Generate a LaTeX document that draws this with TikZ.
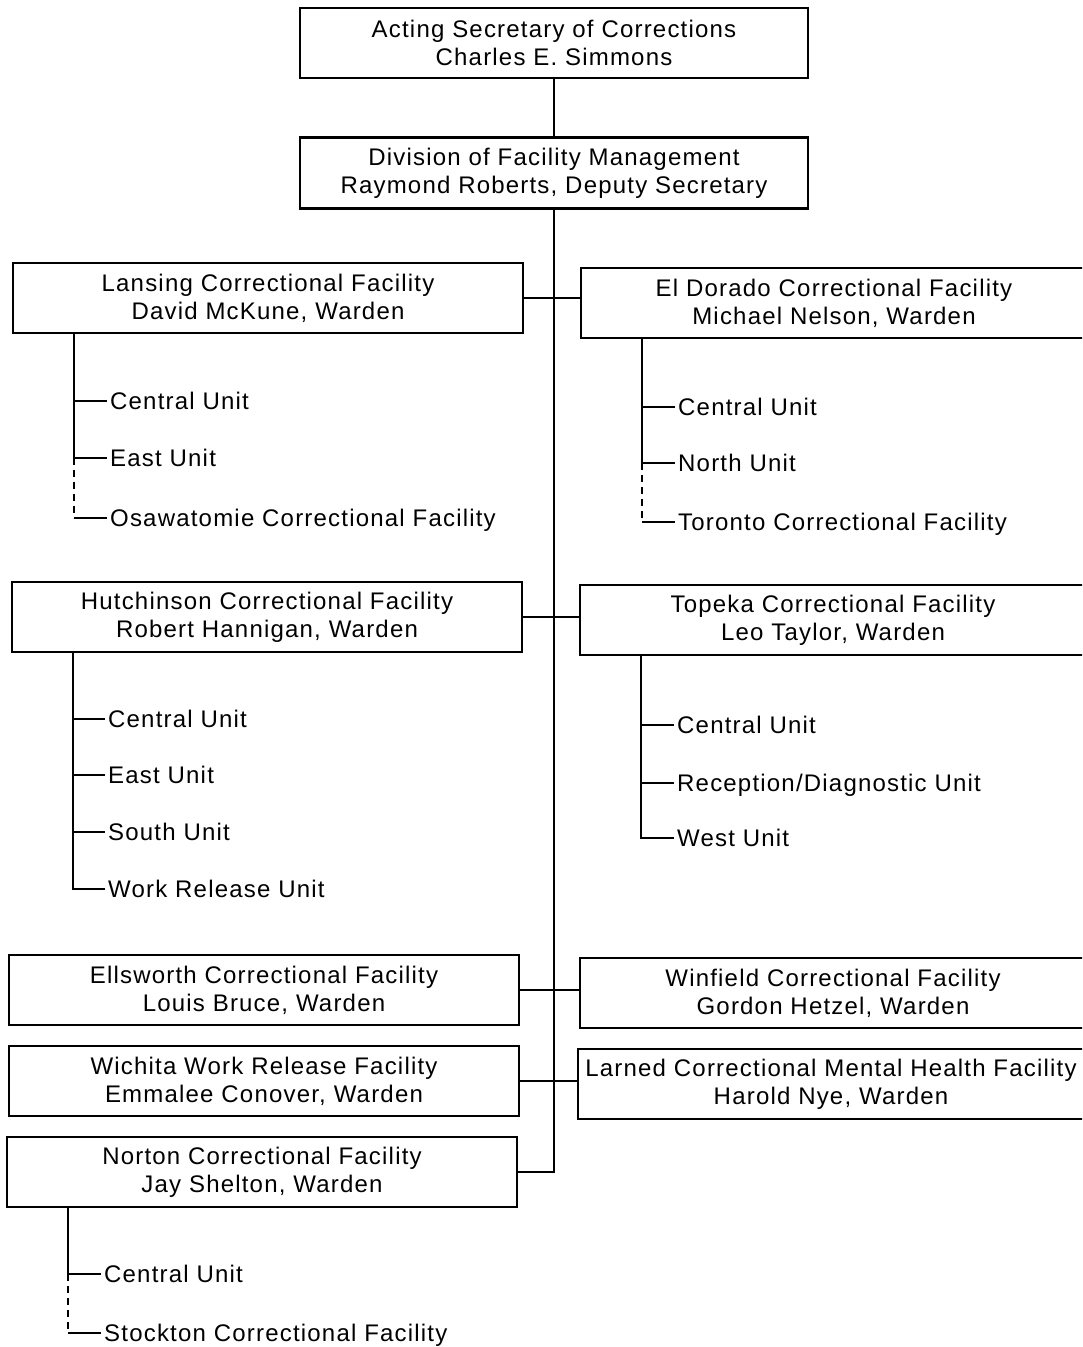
\documentclass[tikz,border=0pt]{standalone}
\usepackage{fontspec}
\setmainfont{Liberation Sans}[LetterSpace=5]

\begin{document}
\begin{tikzpicture}[x=1pt,y=-1pt,line width=2.4pt,
  box/.style={draw,inner sep=0,minimum height=70pt,align=center,font=\fontsize{24}{28}\selectfont},
  lbox/.style={box,minimum width=510pt},
  rbox/.style={box,minimum width=506pt},
  item/.style={anchor=west,inner sep=2pt,text height=16pt,text depth=0pt,font=\fontsize{24}{28}\selectfont},
  link/.style={dash pattern=on 7pt off 5pt}]

\clip (0,0) rectangle (1082,1347);

% secretary and division
\node[box,minimum width=508pt] (sec) at (554,43) {Acting Secretary of Corrections\\Charles E. Simmons};
\node[box,minimum width=508pt,minimum height=71pt] (dfm) at (554,173) {Division of Facility Management\\Raymond Roberts, Deputy Secretary};
\draw (sec) -- (dfm);

% facilities
\node[lbox] (lan) at (268,298) {Lansing Correctional Facility\\David McKune, Warden};
\node[rbox] (eld) at (834,303) {El Dorado Correctional Facility\\Michael Nelson, Warden};
\node[lbox] (hut) at (267,617) {Hutchinson Correctional Facility\\Robert Hannigan, Warden};
\node[rbox] (top) at (833,620) {Topeka Correctional Facility\\Leo Taylor, Warden};
\node[lbox] (ell) at (264,990) {Ellsworth Correctional Facility\\Louis Bruce, Warden};
\node[rbox] (win) at (833,993) {Winfield Correctional Facility\\Gordon Hetzel, Warden};
\node[lbox] (wic) at (264,1081) {Wichita Work Release Facility\\Emmalee Conover, Warden};
\node[rbox] (lar) at (831,1084) {Larned Correctional Mental Health Facility\\Harold Nye, Warden};
\node[lbox] (nor) at (262,1172) {Norton Correctional Facility\\Jay Shelton, Warden};

\draw (nor.east) -- (nor.east -| dfm.south) -- (dfm.south);
\draw (lan.east) -- (eld.west |- lan.east);
\draw (hut.east) -- (top.west |- hut.east);
\draw (ell.east) -- (win.west |- ell.east);
\draw (wic.east) -- (lar.west |- wic.east);

% units
\node[item] (lanC) at (107,401) {Central Unit};
\node[item] (lanE) at (107,458) {East Unit};
\node[item] (lanO) at (107,518) {Osawatomie Correctional Facility};
\coordinate (lanT) at ([xshift=62pt]lan.south west);
\draw (lanT) |- (lanC.west) (lanT) |- (lanE.west);
\draw[link] (lanE.west -| lanT) -- (lanO.west -| lanT);
\draw (lanO.west -| lanT) -- (lanO.west);

\node[item] (eldC) at (675,407) {Central Unit};
\node[item] (eldN) at (675,463) {North Unit};
\node[item] (eldT) at (675,522) {Toronto Correctional Facility};
\coordinate (eldS) at ([xshift=62pt]eld.south west);
\draw (eldS) |- (eldC.west) (eldS) |- (eldN.west);
\draw[link] (eldN.west -| eldS) -- (eldT.west -| eldS);
\draw (eldT.west -| eldS) -- (eldT.west);

\node[item] (hutC) at (105,719) {Central Unit};
\node[item] (hutE) at (105,775) {East Unit};
\node[item] (hutS) at (105,832) {South Unit};
\node[item] (hutW) at (105,889) {Work Release Unit};
\coordinate (hutT) at ([xshift=62pt]hut.south west);
\foreach \u in {hutC,hutE,hutS,hutW}
  \draw (hutT) |- (\u.west);

\node[item] (topC) at (674,725) {Central Unit};
\node[item] (topR) at (674,783) {Reception/Diagnostic Unit};
\node[item] (topW) at (674,838) {West Unit};
\coordinate (topT) at ([xshift=62pt]top.south west);
\foreach \u in {topC,topR,topW}
  \draw (topT) |- (\u.west);

\node[item] (norC) at (101,1274) {Central Unit};
\node[item] (norS) at (101,1333) {Stockton Correctional Facility};
\coordinate (norT) at ([xshift=62pt]nor.south west);
\draw (norT) |- (norC.west);
\draw[link] (norC.west -| norT) -- (norS.west -| norT);
\draw (norS.west -| norT) -- (norS.west);

\end{tikzpicture}
\end{document}
